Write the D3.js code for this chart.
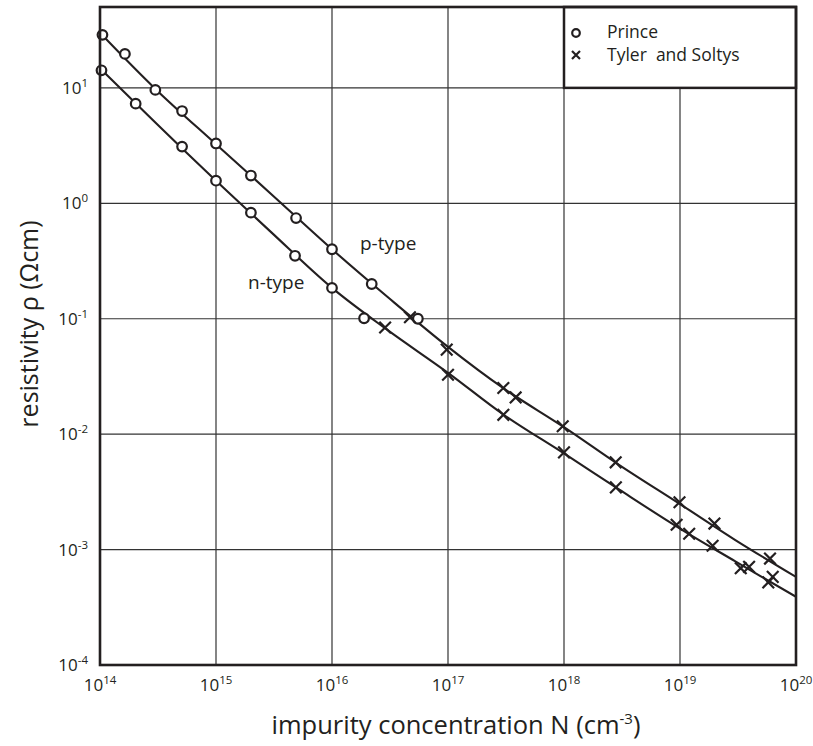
<!DOCTYPE html>
<html><head><meta charset="utf-8">
<script src="https://cdn.jsdelivr.net/npm/d3@7"></script>
<style>body{margin:0;background:#fff}svg{display:block}text{font-family:"Open Sans","Noto Sans",sans-serif;fill:#231f20}</style>
</head><body>
<svg id="c" width="813" height="746"></svg>
<script>
// ---- data ----
const xTicks = [1e14, 1e15, 1e16, 1e17, 1e18, 1e19, 1e20];
const xTickExp = ["14", "15", "16", "17", "18", "19", "20"];
const yTicks = [1e1, 1e0, 1e-1, 1e-2, 1e-3, 1e-4];
const yTickExp = ["1", "0", "-1", "-2", "-3", "-4"];

// fitted curves
const curveN = [1e14, 3e14, 1e15, 3e15, 1e16, 3e16, 1e17, 3e17, 1e18, 3e18, 1e19, 3e19, 1e20];
const pCurveRho = [30, 9.8, 3.25, 1.2, 0.40, 0.155, 0.057, 0.025, 0.0115, 0.0054, 0.00248, 0.00121, 0.00058];
const nCurveRho = [14.8, 5.0, 1.57, 0.56, 0.185, 0.080, 0.034, 0.0148, 0.0068, 0.0033, 0.00152, 0.00079, 0.00039];

// Prince (circles)
const princeP_N = [1.05e14, 1.64e14, 3.0e14, 5.1e14, 1e15, 2e15, 4.9e15, 1e16, 2.2e16, 5.5e16];
const princeP_rho = [28.8, 19.7, 9.6, 6.3, 3.3, 1.74, 0.745, 0.40, 0.20, 0.10];
const princeN_N = [1.03e14, 2.03e14, 5.1e14, 1e15, 2e15, 4.8e15, 1e16, 1.89e16];
const princeN_rho = [14.2, 7.3, 3.1, 1.57, 0.83, 0.351, 0.185, 0.101];

// Tyler and Soltys (crosses)
const tylerP_N = [4.7e16, 9.75e16, 3.0e17, 3.83e17, 9.75e17, 2.79e18, 9.9e18, 1.98e19, 5.97e19];
const tylerP_rho = [0.103, 0.054, 0.0251, 0.0208, 0.0117, 0.0057, 0.00257, 0.00168, 0.000836];
const tylerN_N = [2.87e16, 1e17, 3e17, 1e18, 2.8e18, 9.35e18, 1.2e19, 1.91e19, 3.34e19, 3.94e19, 6.3e19, 5.77e19];
const tylerN_rho = [0.084, 0.0327, 0.0147, 0.00695, 0.00346, 0.00164, 0.00137, 0.00108, 0.00069, 0.000708, 0.00058, 0.00052];

// ---- chart ----
const svg = d3.select("#c");
const L = 100, R = 796, T = 7, B = 665;
const x = d3.scaleLog().domain([1e14, 1e20]).range([L, R]);
const y = d3.scaleLog().domain([1e-4, 50.2]).range([B, T]);
const ink = "#231f20";

// grid
const g = svg.append("g");
g.selectAll("line.vx").data(xTicks.slice(1, -1)).join("line")
  .attr("x1", d => x(d)).attr("x2", d => x(d)).attr("y1", T).attr("y2", B)
  .attr("stroke", "#333").attr("stroke-width", 1.2);
g.selectAll("line.hy").data(yTicks.slice(0, -1)).join("line")
  .attr("x1", L).attr("x2", R).attr("y1", d => y(d)).attr("y2", d => y(d))
  .attr("stroke", "#333").attr("stroke-width", 1.2);

// curves
const line = d3.line().x(d => x(d[0])).y(d => y(d[1])).curve(d3.curveCatmullRom.alpha(0.5));
svg.append("clipPath").attr("id", "pc").append("rect")
  .attr("x", L).attr("y", T).attr("width", R - L).attr("height", B - T);
[pCurveRho, nCurveRho].forEach(arr => {
  svg.append("path").attr("clip-path", "url(#pc)")
    .attr("d", line(curveN.map((n, i) => [n, arr[i]])))
    .attr("fill", "none").attr("stroke", ink).attr("stroke-width", 2.1);
});

// markers
function circles(N, rho) {
  svg.append("g").selectAll("circle").data(N.map((n, i) => [n, rho[i]])).join("circle")
    .attr("cx", d => x(d[0])).attr("cy", d => y(d[1])).attr("r", 4.8)
    .attr("fill", "#fff").attr("stroke", ink).attr("stroke-width", 2.2);
}
function crosses(N, rho) {
  const s = 5.8;
  svg.append("g").selectAll("path").data(N.map((n, i) => [n, rho[i]])).join("path")
    .attr("d", d => {
      const cx = x(d[0]), cy = y(d[1]);
      return `M${cx - s},${cy - s}L${cx + s},${cy + s}M${cx - s},${cy + s}L${cx + s},${cy - s}`;
    })
    .attr("fill", "none").attr("stroke", ink).attr("stroke-width", 2.2);
}
circles(princeP_N, princeP_rho);
circles(princeN_N, princeN_rho);
crosses(tylerP_N, tylerP_rho);
crosses(tylerN_N, tylerN_rho);

// legend
const lg = svg.append("g");
lg.append("rect").attr("x", 564).attr("y", T).attr("width", R - 564).attr("height", y(1e1) - T)
  .attr("fill", "#fff").attr("stroke", ink).attr("stroke-width", 2.5);
lg.append("circle").attr("cx", 576).attr("cy", 33).attr("r", 3.8)
  .attr("fill", "#fff").attr("stroke", ink).attr("stroke-width", 2.2);
lg.append("path").attr("d", "M572,51L580,59M572,59L580,51").attr("stroke", ink).attr("stroke-width", 2.2);
lg.append("text").attr("x", 607).attr("y", 38).attr("font-size", 17.5).text("Prince");
lg.append("text").attr("x", 607).attr("y", 61).attr("font-size", 17.5)
  .style("white-space", "pre").text("Tyler  and Soltys");

// frame
svg.append("rect").attr("x", L).attr("y", T).attr("width", R - L).attr("height", B - T)
  .attr("fill", "none").attr("stroke", ink).attr("stroke-width", 2.6);

// tick labels
const xt = svg.append("g").selectAll("text").data(xTicks).join("text")
  .attr("x", d => x(d)).attr("y", 691).attr("text-anchor", "middle").attr("font-size", 17);
xt.append("tspan").text("10");
xt.append("tspan").attr("font-size", 11.5).attr("dy", -7).text((d, i) => xTickExp[i]);

const yt = svg.append("g").selectAll("text").data(yTicks).join("text")
  .attr("x", 88).attr("y", d => y(d) + 6).attr("text-anchor", "end").attr("font-size", 17);
yt.append("tspan").text("10");
yt.append("tspan").attr("font-size", 11.5).attr("dy", -7).text((d, i) => yTickExp[i]);

// curve labels
svg.append("text").attr("x", 360).attr("y", 250).attr("font-size", 19).text("p-type");
svg.append("text").attr("x", 248).attr("y", 289).attr("font-size", 19).text("n-type");

// axis titles
const xl = svg.append("text").attr("x", 456).attr("y", 734).attr("text-anchor", "middle").attr("font-size", 25.5);
xl.append("tspan").text("impurity concentration N (cm");
xl.append("tspan").attr("font-size", 15).attr("dy", -10).text("-3");
xl.append("tspan").attr("dy", 10).text(")");

svg.append("text").attr("transform", "translate(38,324) rotate(-90)")
  .attr("text-anchor", "middle").attr("font-size", 25).text("resistivity ρ (Ωcm)");
</script>
</body></html>
